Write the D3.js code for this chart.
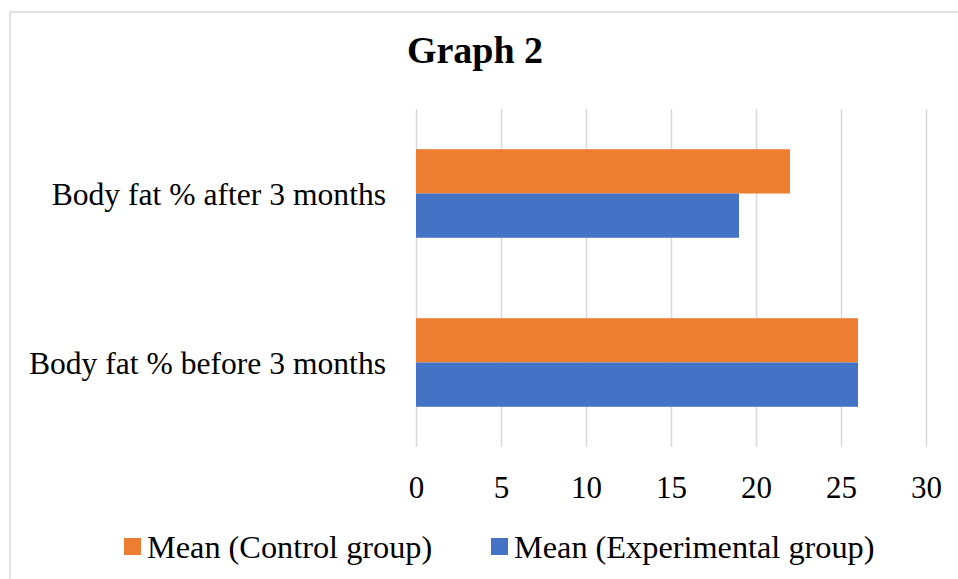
<!DOCTYPE html>
<html><head><meta charset="utf-8">
<script src="https://cdn.jsdelivr.net/npm/d3@7"></script>
<style>html,body{margin:0;padding:0;background:#fff;}svg{display:block;}</style>
</head><body>
<svg id="c" width="958" height="579"></svg>
<script>
const title = "Graph 2";
const categories = ["Body fat % after 3 months", "Body fat % before 3 months"];
const seriesNames = ["Mean (Control group)", "Mean (Experimental group)"];
const controlValues = [22, 26];
const experimentalValues = [19, 26];
const xTicks = [0, 5, 10, 15, 20, 25, 30];
const colors = ["#ED7D31", "#4472C4"];

(function(){
const svg = d3.select("#c");
const font = "'Liberation Serif','Times New Roman',serif";
svg.append("rect").attr("x",10).attr("y",12).attr("width",980).attr("height",600)
  .attr("fill","#fff").attr("stroke","#D9D9D9").attr("stroke-width",1.5);

const pLeft = 416, pRight = 926, pTop = 109, pBottom = 447;
const x = d3.scaleLinear().domain([0,30]).range([pLeft,pRight]);
const y = d3.scaleBand().domain(categories).range([pTop,pBottom]).paddingInner(0.476).paddingOuter(0.238);
const sub = d3.scaleBand().domain(seriesNames).range([0,y.bandwidth()]);

svg.append("text").attr("x",475).attr("y",63).attr("text-anchor","middle")
  .attr("font-family",font).attr("font-weight","bold").attr("font-size",38).text(title);

const grid = svg.append("g").attr("transform",`translate(0,${pBottom})`)
  .call(d3.axisBottom(x).tickValues(xTicks).tickSize(-(pBottom-pTop)).tickFormat(""));
grid.select(".domain").remove();
grid.selectAll("line").attr("stroke","#D9D9D9").attr("stroke-width",1.5);

const data = [controlValues, experimentalValues];
data.forEach((vals,si)=>{
  svg.append("g").selectAll("rect").data(categories).join("rect")
    .attr("x",x(0)).attr("y",c=>y(c)+sub(seriesNames[si]))
    .attr("width",(c,i)=>x(vals[i])-x(0)).attr("height",sub.bandwidth())
    .attr("fill",colors[si]);
});

const xa = svg.append("g").attr("transform",`translate(0,${pBottom})`)
  .call(d3.axisBottom(x).tickValues(xTicks).tickSize(0).tickPadding(0));
xa.select(".domain").remove();
xa.selectAll("text").attr("font-family",font).attr("font-size",31).attr("fill","#000")
  .attr("dy",null).attr("y",51);

const ya = svg.append("g").attr("transform",`translate(${pLeft},0)`)
  .call(d3.axisLeft(y).tickSize(0).tickPadding(30));
ya.select(".domain").remove();
ya.selectAll("text").attr("font-family",font).attr("font-size",31.6).attr("fill","#000").attr("dy","0.37em");

const legX = [124, 491];
seriesNames.forEach((n,i)=>{
  svg.append("rect").attr("x",legX[i]).attr("y",538).attr("width",17).attr("height",17).attr("fill",colors[i]);
  svg.append("text").attr("x",legX[i]+23).attr("y",558).attr("font-family",font).attr("font-size",32.3).text(n);
});
})();
</script>
</body></html>
